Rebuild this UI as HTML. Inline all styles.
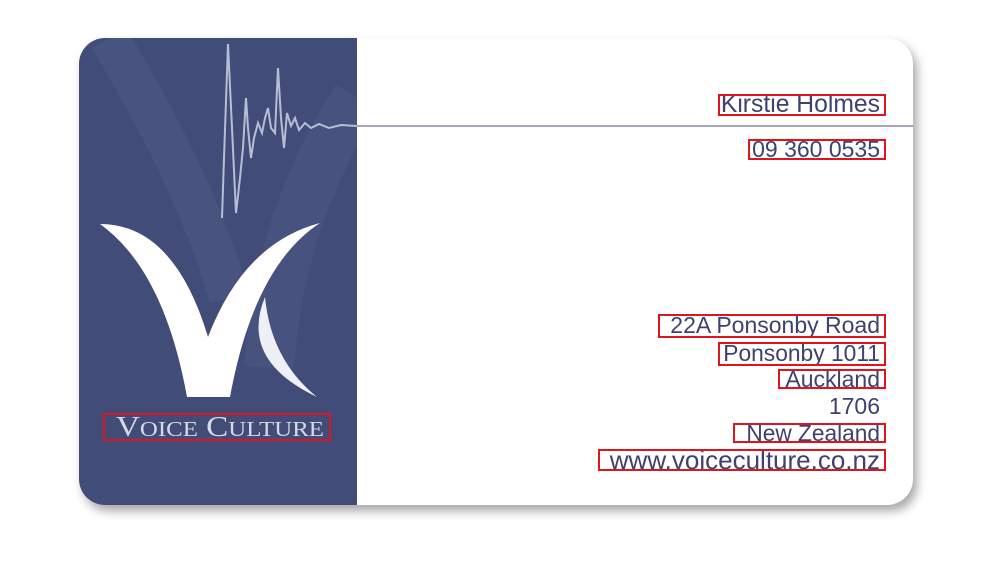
<!DOCTYPE html>
<html><head><meta charset="utf-8"><style>
html,body{margin:0;padding:0;background:#fff;}
body{width:1000px;height:563px;position:relative;overflow:hidden;font-family:"Liberation Sans",sans-serif;}
.card{position:absolute;left:79px;top:38px;width:834px;height:467px;border-radius:26px;background:#fff;box-shadow:4px 6px 10px rgba(0,0,0,0.35);overflow:hidden;}
.panel{position:absolute;left:0;top:0;width:278px;height:467px;background:#414c79;}
.rule{position:absolute;left:278px;top:87px;width:556px;height:2px;background:#a4a6bc;}
.t{position:absolute;right:120px;color:#3d4270;line-height:28px;height:28px;white-space:nowrap;}
.box{position:absolute;border:2px solid #e0141c;box-sizing:border-box;}
</style></head><body>
<div class="card">
 <div class="panel">
  <svg width="278" height="467" viewBox="0 0 278 467" style="position:absolute;left:0;top:0">
   <path d="M30 0 Q120 150 150 260" stroke="#4d5886" stroke-width="40" fill="none" opacity="0.6"/>
   <path d="M278 60 Q200 180 190 330" stroke="#4d5886" stroke-width="50" fill="none" opacity="0.5"/>
   <polyline points="143,180 145,120 149,6 153,90 157,175 161,140 164,110 167,60 169,90 172,120 175,100 179,85 183,95 186,80 189,70 192,90 196,95 199,30 202,80 205,110 208,75 212,88 216,80 220,92 226,85 232,90 240,86 250,90 262,87 278,88" stroke="#cdd1e2" stroke-width="2" fill="none" opacity="0.85"/>
   <path d="M21 186 Q95 186 129 299 Q165 205 241 185 Q175 228 151 359 L108 359 Q85 232 21 186 Z" fill="#fff"/>
   <path d="M186 259 Q160 322 238 359 Q192 322 186 259 Z" fill="#eef0f5"/>
   <text x="37" y="398" font-family="Liberation Serif,serif" font-size="28" fill="#d6d9e4" textLength="208" lengthAdjust="spacingAndGlyphs">V<tspan font-size="21">OICE</tspan> C<tspan font-size="21">ULTURE</tspan></text>
  </svg>
 </div>
 <div class="rule"></div>
</div>
<div class="t" style="top:91px;font-size:24.7px">Kirstie Holmes</div>
<div class="t" style="top:135px;font-size:23px">09 360 0535</div>
<div class="t" style="top:311px;font-size:23px">22A Ponsonby Road</div>
<div class="t" style="top:339px;font-size:22.8px">Ponsonby 1011</div>
<div class="t" style="top:365px;font-size:23px">Auckland</div>
<div class="t" style="top:392px;font-size:23px">1706</div>
<div class="t" style="top:419px;font-size:22.7px">New Zealand</div>
<div class="t" style="top:446px;font-size:26px">www.voiceculture.co.nz</div>
<div class="box" style="left:718px;top:94px;width:168px;height:22px"></div>
<div class="box" style="left:748px;top:139px;width:138px;height:21px"></div>
<div class="box" style="left:658px;top:314px;width:228px;height:24px"></div>
<div class="box" style="left:718px;top:342px;width:168px;height:24px"></div>
<div class="box" style="left:778px;top:369px;width:108px;height:20px"></div>
<div class="box" style="left:733px;top:423px;width:153px;height:20px"></div>
<div class="box" style="left:598px;top:449px;width:288px;height:22px"></div>
<div class="box" style="left:103px;top:413px;width:228px;height:28px"></div>
</body></html>
